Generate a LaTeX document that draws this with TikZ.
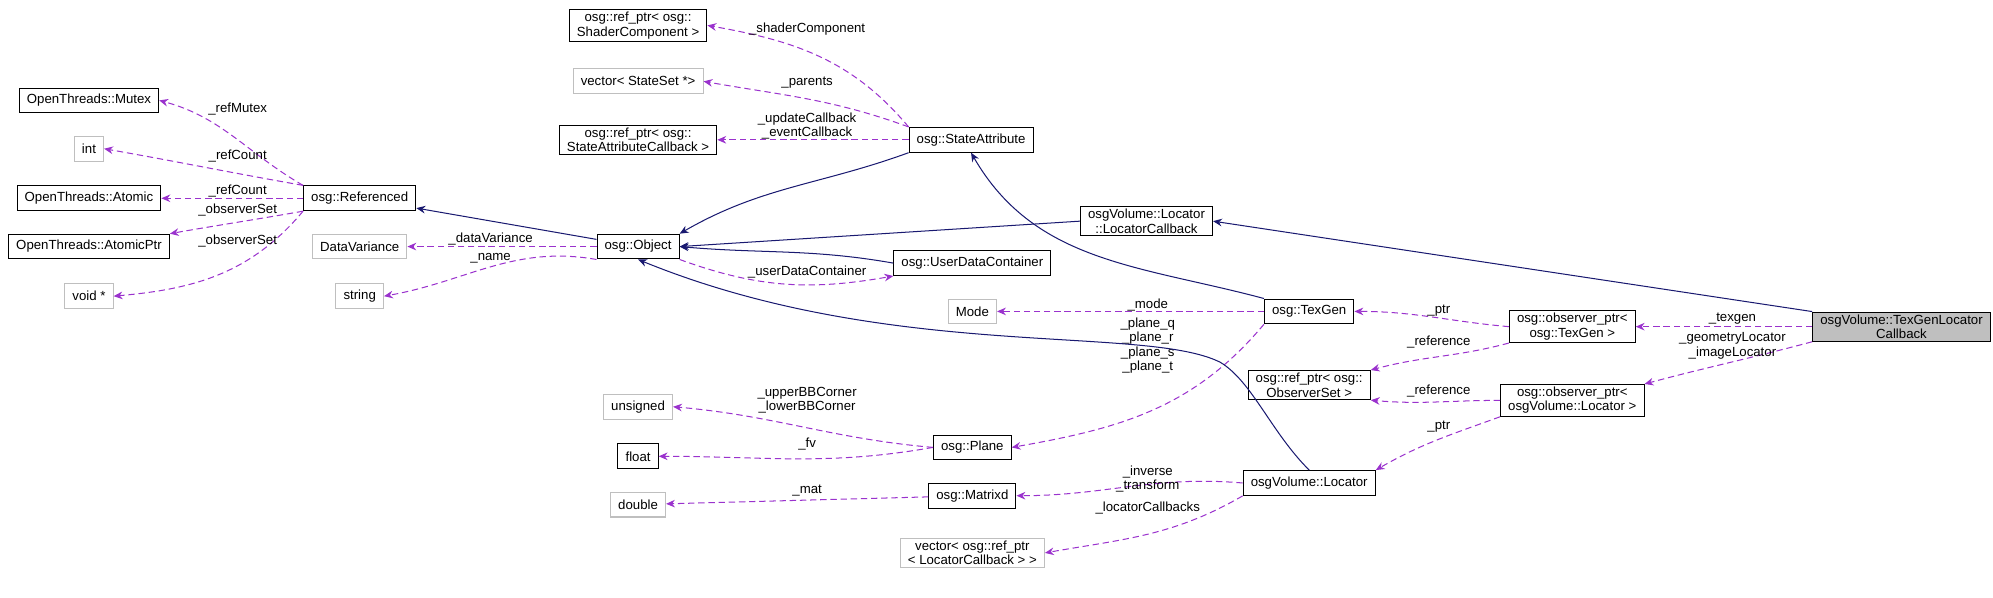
\documentclass[tikz,border=0pt]{standalone}
\usepackage{fontspec}
\setmainfont{Liberation Sans}
\usetikzlibrary{arrows.meta, positioning}
\definecolor{member}{HTML}{9A32CD}
\definecolor{base}{HTML}{191970}
\definecolor{undoc}{HTML}{BFBFBF}

\begin{document}
\begin{tikzpicture}[
  x=1pt, y=-1pt,
  font=\fontsize{10.4}{11.3}\selectfont,
  cls/.style={draw, thick, inner xsep=6pt, inner ysep=2pt, minimum height=19.5pt, align=center},
  ext/.style={cls, draw=undoc},
  self/.style={cls, fill=undoc},
  uses/.style={draw=member, thick, dash pattern=on 5pt off 3pt, -{Stealth[length=7pt, width=6pt]}},
  inherits/.style={draw=base, thick, -{Stealth[length=7pt, width=6pt]}},
  lbl/.style={align=center, inner sep=1pt},
]
  \useasboundingbox (0,0) rectangle (1568,470);

  % Left column
  \node[cls] (Mutex) at (70,79) {OpenThreads::Mutex};
  \node[ext] (Int) at (70,117) {int};
  \node[cls] (Atomic) at (70,156) {OpenThreads::Atomic};
  \node[cls] (AtomicPtr) at (70,194) {OpenThreads::AtomicPtr};
  \node[ext] (Void) at (70,233) {void *};

  % Referenced column
  \node[cls] (Referenced) at (283,156) {osg::Referenced};
  \node[ext] (DataVariance) at (283,194) {DataVariance};
  \node[ext] (String) at (283,233) {string};

  % Object column
  \node[cls] (ShaderComp) at (502,20) {osg::ref\_ptr< osg::\\ShaderComponent >};
  \node[ext] (StateSets) at (502,64) {vector< StateSet *>};
  \node[cls] (SACallback) at (502,110) {osg::ref\_ptr< osg::\\StateAttributeCallback >};
  \node[cls] (Object) at (502,194) {osg::Object};
  \node[ext] (Unsigned) at (502,320) {unsigned};
  \node[cls] (Float) at (502,359) {float};
  \node[ext] (Double) at (502,397) {double};

  % Middle column
  \node[cls] (StateAttribute) at (764,110) {osg::StateAttribute};
  \node[cls] (UserData) at (765,207) {osg::UserDataContainer};
  \node[ext] (Mode) at (765,245) {Mode};
  \node[cls] (Plane) at (765,352) {osg::Plane};
  \node[cls] (Matrixd) at (765,390) {osg::Matrixd};
  \node[ext] (LCallbacks) at (765,435) {vector< osg::ref\_ptr\\< LocatorCallback > >};
  \node[cls] (LocatorCallback) at (902,174) {osgVolume::Locator\\::LocatorCallback};

  % TexGen column
  \node[cls] (TexGen) at (1030,245) {osg::TexGen};
  \node[cls] (ObserverSet) at (1030,303) {osg::ref\_ptr< osg::\\ObserverSet >};
  \node[cls] (Locator) at (1030,380) {osgVolume::Locator};

  % Observer column
  \node[cls] (ObsTexGen) at (1237,257) {osg::observer\_ptr<\\osg::TexGen >};
  \node[cls] (ObsLocator) at (1237,315) {osg::observer\_ptr<\\osgVolume::Locator >};

  % Class of interest
  \node[self] (TexGenLC) at (1496,257) {osgVolume::TexGenLocator\\Callback};

  % Referenced members
  \draw[uses] (Referenced.north west) to[out=150, in=-15] (Mutex.east);
  \draw[uses] (Referenced.north west) to[out=170, in=-10] (Int.east);
  \draw[uses] (Referenced) -- (Atomic);
  \draw[uses] (Referenced.south west) to[out=-170, in=10] (AtomicPtr.north east);
  \draw[uses] (Referenced.south west) to[out=-130, in=5] (Void.east);
  \node[lbl] (lRefMutex) at (187,86) {\_refMutex};
  \node[lbl] (lRefCountA) at (187,123) {\_refCount};
  \node[lbl] (lRefCountB) at (187,150) {\_refCount};
  \node[lbl] (lObsA) at (187,165) {\_observerSet};
  \node[lbl] (lObsB) at (187,190) {\_observerSet};

  % Object members
  \draw[inherits] (Object) -- (Referenced);
  \draw[uses] (Object) -- (DataVariance);
  \draw[uses] (Object.south west) to[out=170, in=10] (String.east);
  \node[lbl] (lDataVar) at (386,188) {\_dataVariance};
  \node[lbl] (lName) at (386,203) {\_name};

  % StateAttribute members
  \draw[uses] (StateAttribute.north west) to[out=130, in=-10] (ShaderComp.east);
  \draw[uses] (StateAttribute.north west) to[out=160, in=-10] (StateSets.east);
  \draw[uses] (StateAttribute) -- (SACallback);
  \draw[inherits] (StateAttribute.south west) to[out=-160, in=30] (Object.north east);
  \node[lbl] (lShader) at (635,23) {\_shaderComponent};
  \node[lbl] (lParents) at (635,65) {\_parents};
  \node[lbl] (lCallbacks) at (635,99) {\_updateCallback\\\_eventCallback};

  % UserDataContainer
  \draw[inherits] (UserData.west) to[out=170, in=-5] (Object.east);
  \draw[uses] (Object.south east) to[out=-20, in=190] (UserData.south west);
  \node[lbl] (lUserData) at (635,214) {\_userDataContainer};

  % LocatorCallback
  \draw[inherits] (LocatorCallback.west) -- (Object.east);
  \draw[inherits] (TexGenLC.north west) -- (LocatorCallback.east);

  % TexGen
  \draw[inherits] (TexGen.north west) to[out=165, in=-60] (StateAttribute.south);
  \draw[uses] (TexGen) -- (Mode);
  \draw[uses] (TexGen.south west) to[out=-130, in=10] (Plane.east);
  \node[lbl] (lMode) at (903,240) {\_mode};
  \node[lbl] (lPlanes) at (903,272) {\_plane\_q\\\_plane\_r\\\_plane\_s\\\_plane\_t};

  % Plane and Matrixd members
  \draw[uses] (Plane.west) to[out=175, in=-5] (Unsigned.east);
  \draw[uses] (Plane.west) to[out=-170, in=0] (Float.east);
  \draw[uses] (Matrixd) -- (Double);
  \node[lbl] (lBBCorner) at (635,315) {\_upperBBCorner\\\_lowerBBCorner};
  \node[lbl] (lFv) at (635,349) {\_fv};
  \node[lbl] (lMat) at (635,386) {\_mat};

  % Locator
  \draw[inherits] (Locator.north) .. controls (1000,340) and (985,300) .. (960,285)
    .. controls (900,255) and (700,285) .. (Object.south);
  \draw[uses] (Locator.west) to[out=175, in=0] (Matrixd.east);
  \draw[uses] (Locator.south west) to[out=-150, in=10] (LCallbacks.east);
  \node[lbl] (lInverse) at (903,377) {\_inverse\\\_transform};
  \node[lbl] (lLCallbacks) at (903,400) {\_locatorCallbacks};

  % Observer pointers
  \draw[uses] (ObsTexGen.west) to[out=175, in=0] (TexGen.east);
  \draw[uses] (ObsTexGen.south west) to[out=-165, in=15] (ObserverSet.north east);
  \draw[uses] (ObsLocator.west) to[out=180, in=-5] (ObserverSet.south east);
  \draw[uses] (ObsLocator.south west) to[out=-160, in=30] (Locator.north east);
  \node[lbl] (lPtrA) at (1132,244) {\_ptr};
  \node[lbl] (lRefA) at (1132,269) {\_reference};
  \node[lbl] (lRefB) at (1132,308) {\_reference};
  \node[lbl] (lPtrB) at (1132,336) {\_ptr};

  % TexGenLocatorCallback members
  \draw[uses] (TexGenLC) -- (ObsTexGen);
  \draw[uses] (TexGenLC.south west) to[out=-165, in=15] (ObsLocator.north east);
  \node[lbl] (lTexgen) at (1363,251) {\_texgen};
  \node[lbl] (lLocators) at (1363,272) {\_geometryLocator\\\_imageLocator};
\end{tikzpicture}
\end{document}
